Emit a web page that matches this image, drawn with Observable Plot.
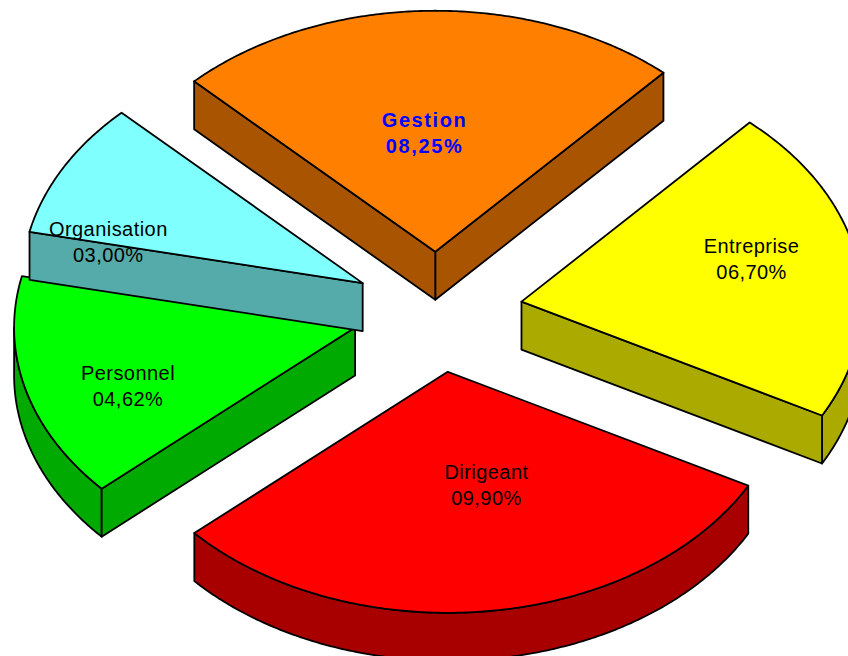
<!DOCTYPE html>
<html><head><meta charset="utf-8">
<script src="https://cdn.jsdelivr.net/npm/d3@7"></script>
<script src="https://cdn.jsdelivr.net/npm/@observablehq/plot@0.6"></script>
<style>
html,body{margin:0;padding:0;background:#fff;overflow:hidden}
.label-normal{letter-spacing:.45px}
.label-bold{letter-spacing:1.6px}
</style>
</head><body><div id="chart"></div>
<script>
// Data (draw order: Organisation overlaps Personnel)
const categories = ["Gestion", "Entreprise", "Dirigeant", "Personnel", "Organisation"];
const valueLabels = ["08,25%", "06,70%", "09,90%", "04,62%", "03,00%"];
const sweeps = [87, 76.2, 109.8, 54.3, 32.7]; // slice angle in degrees, as drawn
const starts = [48, 331.8, 222, 167.7, 135];
const topColors = ["#ff8000", "#ffff00", "#ff0000", "#00ff00", "#80ffff"];
const sideColors = ["#a85400", "#aaaa00", "#a80000", "#00aa00", "#55aaaa"];
const labelColors = ["#0000ff", "#000000", "#000000", "#000000", "#000000"];
const labelAngles = [92.9, 13.7, 281.4, 198.3, 162.9];
const labelRadii = [0.75, 0.948, 0.726, 0.956, 1.01];

// Pie layout
const cx = 437, cy = 311.5, rx = 341, ry = 241, depth = 48, explode = 0.25;
const rad = d => d * Math.PI / 180;

const faces = [];
function addFace(id, color, pts) {
  pts.forEach(([x, y]) => faces.push({id, color, x, y}));
}
categories.forEach((_, i) => {
  const t1 = starts[i], t2 = t1 + sweeps[i], mid = (t1 + t2) / 2;
  const ax = cx + explode * rx * Math.cos(rad(mid));
  const ay = cy - explode * ry * Math.sin(rad(mid));
  const pt = t => [ax + rx * Math.cos(rad(t)), ay - ry * Math.sin(rad(t))];
  const down = ([x, y]) => [x, y + depth];
  const arc = (a, b) => d3.range(a, b, 0.5).concat(b).map(pt);
  // outer rim, only where it faces the viewer
  const a = Math.max(t1, 180), b = Math.min(t2, 360);
  if (b > a) {
    const p = arc(a, b);
    addFace(`${i}-rim`, sideColors[i], p.concat(p.map(down).reverse()));
  }
  // flat cut faces that face the viewer
  if (Math.cos(rad(t1)) > 0) {
    const e = pt(t1);
    addFace(`${i}-a`, sideColors[i], [[ax, ay], e, down(e), down([ax, ay])]);
  }
  if (Math.cos(rad(t2)) < 0) {
    const e = pt(t2);
    addFace(`${i}-b`, sideColors[i], [[ax, ay], e, down(e), down([ax, ay])]);
  }
  addFace(`${i}-top`, topColors[i], [[ax, ay], ...arc(t1, t2)]);
});

const labels = categories.map((c, i) => ({
  text: `${c}\n${valueLabels[i]}`,
  x: cx + labelRadii[i] * rx * Math.cos(rad(labelAngles[i])),
  y: cy - labelRadii[i] * ry * Math.sin(rad(labelAngles[i])),
  color: labelColors[i]
}));
const textOptions = {x: "x", y: "y", text: "text", fill: "color",
  fontFamily: "Liberation Sans", fontSize: 20, lineHeight: 1.3};

const chart = Plot.plot({
  width: 848, height: 656,
  margin: 0,
  style: {background: "#fff"},
  x: {domain: [0, 848], range: [0, 848], axis: null},
  y: {domain: [0, 656], range: [0, 656], axis: null},
  color: {type: "identity"},
  marks: [
    Plot.line(faces, {
      x: "x", y: "y", z: "id", fill: "color", stroke: "#000",
      strokeWidth: 1.8, curve: "linear-closed", strokeLinejoin: "round"
    }),
    Plot.text(labels.slice(1), {...textOptions, className: "label-normal"}),
    Plot.text(labels.slice(0, 1), {...textOptions, fontWeight: "bold", className: "label-bold"})
  ]
});
document.getElementById("chart").append(chart);
</script></body></html>
